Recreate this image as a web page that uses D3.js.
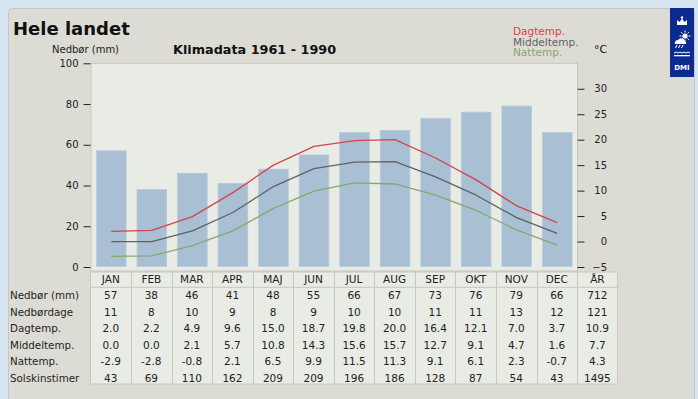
<!DOCTYPE html>
<html>
<head>
<meta charset="utf-8">
<script src="https://cdn.jsdelivr.net/npm/d3@7"></script>
<style>
  html, body { margin: 0; padding: 0; background: #d6e4f1; }
  svg { display: block; font-family: "DejaVu Sans", sans-serif; }
</style>
</head>
<body>
<svg id="chart" width="698" height="399"></svg>
<script>
// Monthly climate normals 1961–1990, whole country
const months = ["JAN", "FEB", "MAR", "APR", "MAJ", "JUN", "JUL", "AUG", "SEP", "OKT", "NOV", "DEC"];
const yearLabel = "ÅR";

const precip    = [57, 38, 46, 41, 48, 55, 66, 67, 73, 76, 79, 66];
const precipDays = [11, 8, 10, 9, 8, 9, 10, 10, 11, 11, 13, 12];
const dayTemp   = [2.0, 2.2, 4.9, 9.6, 15.0, 18.7, 19.8, 20.0, 16.4, 12.1, 7.0, 3.7];
const meanTemp  = [0.0, 0.0, 2.1, 5.7, 10.8, 14.3, 15.6, 15.7, 12.7, 9.1, 4.7, 1.6];
const nightTemp = [-2.9, -2.8, -0.8, 2.1, 6.5, 9.9, 11.5, 11.3, 9.1, 6.1, 2.3, -0.7];
const sunHours  = [43, 69, 110, 162, 209, 209, 196, 186, 128, 87, 54, 43];

// Annual column
const yearValues = [712, 121, 10.9, 7.7, 4.3, 1495];

const rowLabels = ["Nedbør (mm)", "Nedbørdage", "Dagtemp.", "Middeltemp.", "Nattemp.", "Solskinstimer"];
const precipTicks = [0, 20, 40, 60, 80, 100];
const tempTicks = [-5, 0, 5, 10, 15, 20, 25, 30];

const svg = d3.select("#chart");

// Panel
svg.append("rect")
  .attr("x", 8.5).attr("y", 8.5).attr("width", 686).attr("height", 420)
  .attr("rx", 4)
  .attr("fill", "#dddcd4").attr("stroke", "#c4c8cc");

// Scales
const plot = { left: 91, right: 577.5, top: 63.3, bottom: 267 };
const x = d3.scaleBand().domain(months).range([plot.left, plot.right]).paddingInner(0.27).paddingOuter(0.135);
const xc = d3.scaleBand().domain(months).range([plot.left, plot.right]);
const yP = d3.scaleLinear().domain([0, 100]).range([plot.bottom, plot.top]);
const yT = d3.scaleLinear().domain([-5, 35]).range([plot.bottom, plot.top]);

// Plot background
svg.append("rect")
  .attr("x", plot.left).attr("y", plot.top)
  .attr("width", plot.right - plot.left).attr("height", plot.bottom - plot.top + 4)
  .attr("fill", "#e9ebe5").attr("stroke", "#c6c8c0");

// Precipitation bars
svg.append("g").selectAll("rect").data(precip).join("rect")
  .attr("x", (d, i) => x(months[i]))
  .attr("y", d => yP(d))
  .attr("width", x.bandwidth())
  .attr("height", d => yP(0) - yP(d) - 0.5)
  .attr("fill", "#a8bfd4")
  .attr("stroke", "#b6c9dc").attr("stroke-width", 0.8);

// Temperature lines
const line = d3.line()
  .x((d, i) => xc(months[i]) + xc.bandwidth() / 2)
  .y(d => yT(d));

const series = [
  { values: dayTemp, color: "#d6434b", name: "Dagtemp." },
  { values: meanTemp, color: "#5f6163", name: "Middeltemp." },
  { values: nightTemp, color: "#84a96a", name: "Nattemp." }
];

svg.append("g").selectAll("path").data(series).join("path")
  .attr("d", d => line(d.values))
  .attr("fill", "none")
  .attr("stroke", d => d.color)
  .attr("stroke-width", 1.3)
  .attr("stroke-linejoin", "round");

// Left axis (precipitation)
const axisL = d3.axisLeft(yP).tickValues(precipTicks).tickSize(7).tickPadding(5);
const gL = svg.append("g").attr("transform", `translate(${plot.left - 0.5},0)`).call(axisL);
gL.select(".domain").remove();
gL.selectAll("line").attr("stroke", "#222");
gL.selectAll("text").attr("font-size", 10).attr("fill", "#222").attr("font-family", "DejaVu Sans");

// Right axis (temperature)
const axisR = d3.axisRight(yT).tickValues(tempTicks).tickSize(7).tickPadding(22);
const gR = svg.append("g").attr("transform", `translate(${plot.right},0)`).call(axisR);
gR.select(".domain").remove();
gR.selectAll("line").attr("stroke", "#222");
gR.selectAll("text").attr("font-size", 10).attr("fill", "#222")
  .attr("font-family", "DejaVu Sans").attr("text-anchor", "end").attr("x", 29.5);

// Titles
svg.append("text").attr("x", 13).attr("y", 35)
  .attr("font-size", 18).attr("font-weight", "bold").attr("fill", "#111")
  .text("Hele landet");
svg.append("text").attr("x", 173).attr("y", 53.5)
  .attr("font-size", 12.8).attr("font-weight", "bold").attr("fill", "#111")
  .text("Klimadata 1961 - 1990");
svg.append("text").attr("x", 52).attr("y", 52.5)
  .attr("font-size", 10).attr("fill", "#222")
  .text("Nedbør (mm)");
svg.append("text").attr("x", 594).attr("y", 53)
  .attr("font-size", 11).attr("fill", "#111")
  .text("°C");

// Legend
svg.append("g").selectAll("text").data(series).join("text")
  .attr("x", 513)
  .attr("y", (d, i) => 35 + i * 10.6)
  .attr("font-size", 10.5)
  .attr("fill", d => d.color)
  .text(d => d.name);

// Data table
const cols = months.concat([yearLabel]);
const tx = d3.scaleBand().domain(cols).range([plot.left - 0.5, plot.left - 0.5 + 13 * 40.55]);
const tableTop = 272, headBottom = 287.3, tableBottom = 384;
const table = svg.append("g");

table.append("rect")
  .attr("x", tx.range()[0]).attr("y", tableTop)
  .attr("width", tx.range()[1] - tx.range()[0]).attr("height", tableBottom - tableTop)
  .attr("fill", "#e9ebe5").attr("stroke", "#c6c8c0");
table.append("line")
  .attr("x1", tx.range()[0]).attr("x2", tx.range()[1])
  .attr("y1", headBottom).attr("y2", headBottom)
  .attr("stroke", "#c6c8c0");
table.selectAll(".vline").data(cols.slice(1)).join("line")
  .attr("class", "vline")
  .attr("x1", d => Math.round(tx(d)) + 0.5).attr("x2", d => Math.round(tx(d)) + 0.5)
  .attr("y1", tableTop).attr("y2", tableBottom)
  .attr("stroke", "#c6c8c0");

table.selectAll(".head").data(cols).join("text")
  .attr("class", "head")
  .attr("x", d => tx(d) + tx.bandwidth() / 2)
  .attr("y", 283.3)
  .attr("text-anchor", "middle")
  .attr("font-size", 10.5).attr("fill", "#222")
  .text(d => d);

const rowBase = d3.scaleLinear().domain([0, 5]).range([299, 381.7]);
const fmtInt = v => String(v);
const fmtTemp = v => v.toFixed(1);
const rows = [
  { values: precip, fmt: fmtInt },
  { values: precipDays, fmt: fmtInt },
  { values: dayTemp, fmt: fmtTemp },
  { values: meanTemp, fmt: fmtTemp },
  { values: nightTemp, fmt: fmtTemp },
  { values: sunHours, fmt: fmtInt }
];

rows.forEach((row, r) => {
  const cells = row.values.map(row.fmt).concat([row.fmt(yearValues[r])]);
  table.append("text")
    .attr("x", 10).attr("y", rowBase(r))
    .attr("font-size", 10.3).attr("fill", "#222")
    .text(rowLabels[r]);
  table.selectAll(null).data(cells).join("text")
    .attr("x", (d, i) => tx(cols[i]) + tx.bandwidth() / 2)
    .attr("y", rowBase(r))
    .attr("text-anchor", "middle")
    .attr("font-size", 10.5).attr("fill", "#222")
    .text(d => d);
});

// DMI emblem
const logo = svg.append("g").attr("transform", "translate(670,8)");
logo.append("rect").attr("width", 24).attr("height", 69).attr("fill", "#0d2b8e");
// crown
logo.append("path")
  .attr("d", "M7,17 L7,12 L9.5,14 L12,10.5 L14.5,14 L17,12 L17,17 Z")
  .attr("fill", "#fff");
logo.append("circle").attr("cx", 12).attr("cy", 9.5).attr("r", 1.2).attr("fill", "#fff");
// sun and cloud
const sun = logo.append("g").attr("transform", "translate(15,28)");
d3.range(8).forEach(k => {
  const a = k * Math.PI / 4;
  sun.append("line")
    .attr("x1", Math.cos(a) * 3.5).attr("y1", Math.sin(a) * 3.5)
    .attr("x2", Math.cos(a) * 5.5).attr("y2", Math.sin(a) * 5.5)
    .attr("stroke", "#fff").attr("stroke-width", 1);
});
sun.append("circle").attr("r", 2.6).attr("fill", "#fff");
logo.append("path")
  .attr("d", "M5,36 a3,3 0 0 1 3,-4 a4,4 0 0 1 7,1 a2.5,2.5 0 0 1 1,3 Z")
  .attr("fill", "#fff");
logo.append("path")
  .attr("d", "M7,37 l-1.5,3 M10,37 l-1.5,3 M13,37 l-1.5,3")
  .attr("stroke", "#fff").attr("stroke-width", 1);
// waves
logo.append("path")
  .attr("d", "M4,45 q2,-2 4,0 q2,-2 4,0 q2,-2 4,0 q2,-2 4,0")
  .attr("fill", "none").attr("stroke", "#fff").attr("stroke-width", 1);
logo.append("rect").attr("x", 4).attr("y", 47).attr("width", 16).attr("height", 1.3).attr("fill", "#fff");
logo.append("text")
  .attr("x", 12).attr("y", 62)
  .attr("text-anchor", "middle")
  .attr("font-size", 7).attr("font-weight", "bold").attr("fill", "#fff")
  .text("DMI");
</script>
</body>
</html>
